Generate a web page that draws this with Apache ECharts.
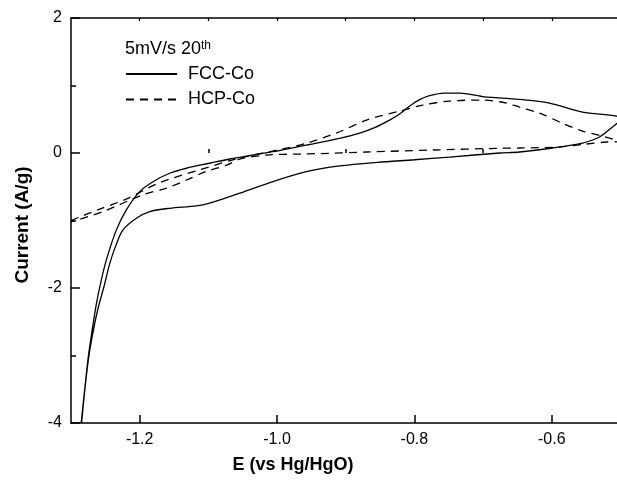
<!DOCTYPE html>
<html>
<head>
<meta charset="utf-8">
<script src="https://cdn.jsdelivr.net/npm/echarts@6/dist/echarts.min.js"></script>
<style>html,body{margin:0;padding:0;background:#fff}#c{width:617px;height:480px}</style>
</head>
<body>
<div id="c"></div>
<script>
// FCC-Co (solid): anodic branch from the bottom up, then cathodic branch back
const fccPotential = [-1.2852,-1.2801,-1.275,-1.2691,-1.2633,-1.2568,-1.2485,-1.2339,-1.2194,-1.2,-1.1806,-1.1563,-1.132,-1.0981,-1.069,-1.0399,-1.006,-0.9573,-0.9089,-0.8797,-0.8579,-0.8361,-0.8215,-0.8069,-0.7924,-0.7779,-0.756,-0.7342,-0.7007,-0.6367,-0.6032,-0.5552,-0.5057,-0.500,
  -0.5116,-0.5305,-0.5552,-0.5988,-0.6469,-0.676,-0.7488,-0.80,-0.8536,-0.9089,-0.9573,-1.006,-1.0544,-1.069,-1.0981,-1.1175,-1.1563,-1.1854,-1.2048,-1.2243,-1.2349,-1.2437,-1.2517,-1.2604,-1.267,-1.2735,-1.2789,-1.2846];
const fccCurrent = [-4.0,-3.506,-3.033,-2.618,-2.249,-1.923,-1.583,-1.139,-0.843,-0.572,-0.425,-0.30,-0.226,-0.152,-0.089,-0.04,0.019,0.118,0.217,0.296,0.377,0.488,0.577,0.695,0.791,0.851,0.888,0.888,0.836,0.784,0.74,0.607,0.547,0.50,
  0.385,0.237,0.148,0.074,0.015,0.0,-0.06,-0.10,-0.138,-0.192,-0.277,-0.424,-0.596,-0.646,-0.743,-0.784,-0.819,-0.868,-0.966,-1.139,-1.376,-1.642,-1.967,-2.293,-2.604,-2.976,-3.417,-4.0];
// HCP-Co (dashed)
const hcpPotential = [-1.3,-1.2582,-1.2189,-1.1709,-1.1127,-1.0544,-0.9918,-0.9574,-0.9088,-0.8696,-0.8215,-0.7881,-0.7488,-0.7007,-0.6658,-0.6469,-0.6178,-0.5843,-0.5552,-0.5261,-0.5057,-0.500,
  -0.5203,-0.5494,-0.5886,-0.6469,-0.676,-0.7735,-0.8696,-0.9423,-0.9671,-1.0151,-1.0544,-1.0734,-1.1025,-1.1316,-1.1607,-1.1956,-1.2539,-1.3];
const hcpCurrent = [-1.0,-0.83,-0.68,-0.44,-0.25,-0.074,0.06,0.143,0.315,0.488,0.62,0.71,0.77,0.784,0.74,0.68,0.59,0.44,0.325,0.25,0.19,0.17,
  0.163,0.133,0.089,0.074,0.07,0.044,0.015,-0.01,-0.015,-0.03,-0.09,-0.18,-0.27,-0.40,-0.52,-0.62,-0.87,-1.02];

const xMajorTicks = [-1.2,-1.0,-0.8,-0.6];
const xMinorTicks = [-1.1,-0.9,-0.7];
const xTopTicks = [-1.2,-1.1,-1.0,-0.9,-0.8,-0.7,-0.6];
const yTicks = [-4,-2,0,2];

const FONT = '"Liberation Sans", Arial, sans-serif';
const zip = (a, b) => a.map((v, i) => [v, b[i]]);
const axisCommon = {type:'value', min:-1.3, max:-0.505, splitLine:{show:false}};

const chart = echarts.init(document.getElementById('c'), null, {renderer:'canvas'});
chart.setOption({
  animation:false,
  backgroundColor:'#fff',
  grid:{left:71, top:18, right:0, bottom:57},
  title:{
    text:'5mV/s 20{sup|th}', left:120, top:35,
    textStyle:{fontFamily:FONT, fontSize:18, fontWeight:'normal', color:'#000',
      rich:{sup:{fontFamily:FONT, fontSize:12, color:'#000', verticalAlign:'top', padding:[0,0,7,0]}}}
  },
  legend:{
    orient:'vertical', left:120, top:60, itemWidth:51, itemHeight:18, itemGap:7.5,
    itemStyle:{opacity:0},
    textStyle:{fontFamily:FONT, fontSize:18, color:'#000', padding:[0,0,0,6]},
    data:['FCC-Co','HCP-Co']
  },
  xAxis:[
    Object.assign({}, axisCommon, {
      position:'bottom',
      axisLine:{show:true, onZero:false, lineStyle:{color:'#000', width:1.5}},
      axisTick:{show:true, inside:true, length:8, customValues:xMajorTicks, lineStyle:{color:'#000', width:1.5}},
      axisLabel:{show:true, customValues:xMajorTicks, formatter:v=>v.toFixed(1), fontFamily:FONT, fontSize:16, color:'#000', margin:9}
    }),
    Object.assign({}, axisCommon, {
      position:'bottom',
      axisLine:{show:false},
      axisTick:{show:true, inside:true, length:4, customValues:xMinorTicks, lineStyle:{color:'#000', width:1.5}},
      axisLabel:{show:false}
    }),
    Object.assign({}, axisCommon, {
      position:'top',
      axisLine:{show:true, onZero:false, lineStyle:{color:'#000', width:1.5}},
      axisTick:{show:true, inside:true, length:3, customValues:xTopTicks, lineStyle:{color:'#000', width:1.2}},
      axisLabel:{show:false}
    })
  ],
  yAxis:{
    type:'value', min:yTicks[0], max:yTicks[yTicks.length-1], interval:2,
    axisLine:{show:true, onZero:false, lineStyle:{color:'#000', width:1.5}},
    axisTick:{show:true, inside:true, length:9, lineStyle:{color:'#000', width:1.5}},
    minorTick:{show:true, splitNumber:2, length:5, lineStyle:{color:'#000', width:1.5}},
    axisLabel:{fontFamily:FONT, fontSize:16, color:'#000', margin:9},
    splitLine:{show:false}
  },
  graphic:[
    {type:'text', x:293, y:465, style:{text:'E (vs Hg/HgO)', font:'bold 18px '+FONT, fill:'#000', textAlign:'center', textVerticalAlign:'middle'}},
    {type:'text', x:23, y:225, rotation:Math.PI/2, style:{text:'Current (A/g)', font:'bold 19px '+FONT, fill:'#000', textAlign:'center', textVerticalAlign:'middle'}}
  ],
  series:[
    {name:'FCC-Co', type:'line', xAxisIndex:0, data:zip(fccPotential, fccCurrent), showSymbol:false, symbol:'none',
      smooth:0.3, clip:true, lineStyle:{color:'#000', width:1.3, type:'solid'}, itemStyle:{color:'#000'}},
    {name:'HCP-Co', type:'line', xAxisIndex:0, data:zip(hcpPotential, hcpCurrent), showSymbol:false, symbol:'none',
      smooth:0.3, clip:true, lineStyle:{color:'#000', width:1.3, type:[8,6]}, itemStyle:{color:'#000'}}
  ]
});
</script>
</body>
</html>
